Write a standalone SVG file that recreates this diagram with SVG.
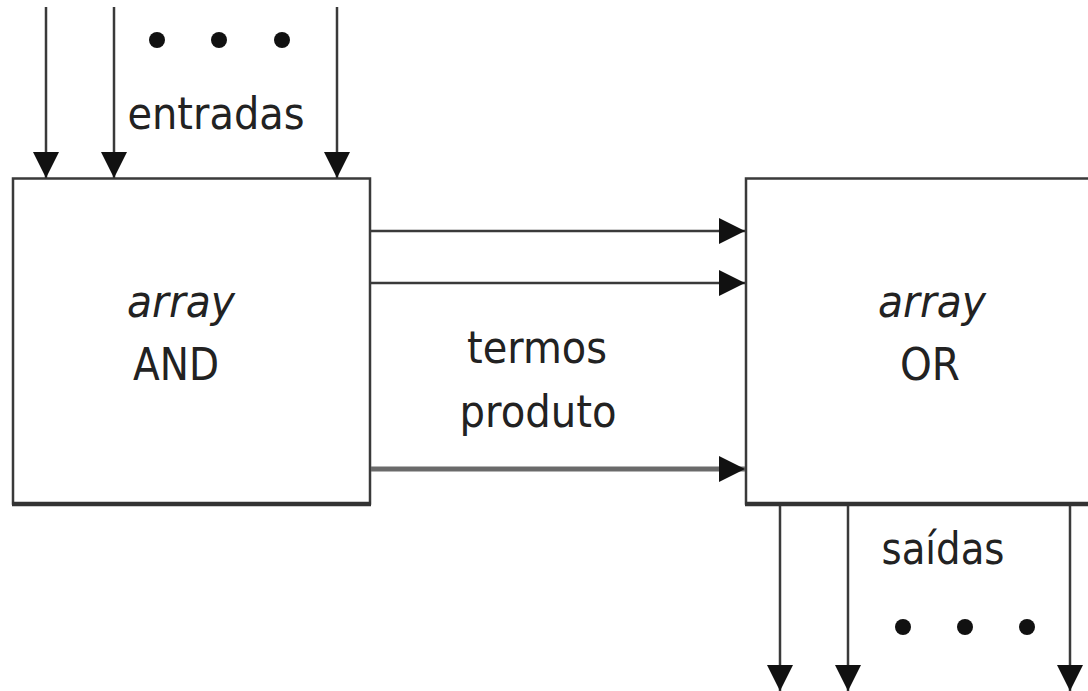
<svg xmlns="http://www.w3.org/2000/svg" width="1088" height="691" viewBox="0 0 1088 691">
<defs>
<marker id="ah" markerUnits="userSpaceOnUse" markerWidth="26" markerHeight="26" viewBox="0 0 24 24" refX="24" refY="12" orient="auto">
<path d="M0,0 L24,12 L0,24 Z" fill="#111"/>
</marker>
</defs>
<style>
.box{fill:#fff;stroke:#3a3a3a;stroke-width:2.5}
.base{stroke:#333;stroke-width:4.5}
.ln{stroke:#3a3a3a;stroke-width:2.5;fill:none}
.lnb{stroke:#6a6a6a;stroke-width:5;fill:none}
.t{font-family:"DejaVu Sans","Verdana",sans-serif;font-size:44px;fill:#222;text-anchor:middle}
.i{font-style:italic}
.dot{fill:#111}
</style>
<rect width="1088" height="691" fill="#fff"/>
<g id="and-array">
<rect class="box" x="13" y="178.5" width="357" height="325"/>
<line class="base" x1="12" y1="504" x2="371" y2="504"/>
<text class="t i" x="181" y="317" textLength="108" lengthAdjust="spacingAndGlyphs">array</text>
<text class="t" x="176" y="380" textLength="86" lengthAdjust="spacingAndGlyphs">AND</text>
</g>
<g id="or-array">
<rect class="box" x="746" y="178.5" width="360" height="325"/>
<line class="base" x1="745" y1="504" x2="1088" y2="504"/>
<text class="t i" x="932" y="317" textLength="108" lengthAdjust="spacingAndGlyphs">array</text>
<text class="t" x="930" y="380" textLength="60" lengthAdjust="spacingAndGlyphs">OR</text>
</g>
<g id="connectors">
<line class="ln" x1="46" y1="7" x2="46" y2="178" marker-end="url(#ah)"/>
<line class="ln" x1="114" y1="7" x2="114" y2="178" marker-end="url(#ah)"/>
<line class="ln" x1="337" y1="7" x2="337" y2="178" marker-end="url(#ah)"/>
<line class="ln" x1="371" y1="231" x2="745" y2="231" marker-end="url(#ah)"/>
<line class="ln" x1="371" y1="283" x2="745" y2="283" marker-end="url(#ah)"/>
<line class="lnb" x1="371" y1="469" x2="745" y2="469" marker-end="url(#ah)"/>
<line class="ln" x1="780" y1="506" x2="780" y2="691" marker-end="url(#ah)"/>
<line class="ln" x1="848" y1="506" x2="848" y2="691" marker-end="url(#ah)"/>
<line class="ln" x1="1070" y1="506" x2="1070" y2="691" marker-end="url(#ah)"/>
</g>
<g id="labels">
<circle class="dot" cx="157" cy="40" r="8"/>
<circle class="dot" cx="219" cy="40" r="8"/>
<circle class="dot" cx="282" cy="40" r="8"/>
<text class="t" x="216" y="129" textLength="177" lengthAdjust="spacingAndGlyphs">entradas</text>
<text class="t" x="537" y="363" textLength="140" lengthAdjust="spacingAndGlyphs">termos</text>
<text class="t" x="538" y="427" textLength="157" lengthAdjust="spacingAndGlyphs">produto</text>
<text class="t" x="943" y="564" textLength="123" lengthAdjust="spacingAndGlyphs">saídas</text>
<circle class="dot" cx="903" cy="627" r="8"/>
<circle class="dot" cx="965" cy="627" r="8"/>
<circle class="dot" cx="1027" cy="627" r="8"/>
</g>
</svg>
